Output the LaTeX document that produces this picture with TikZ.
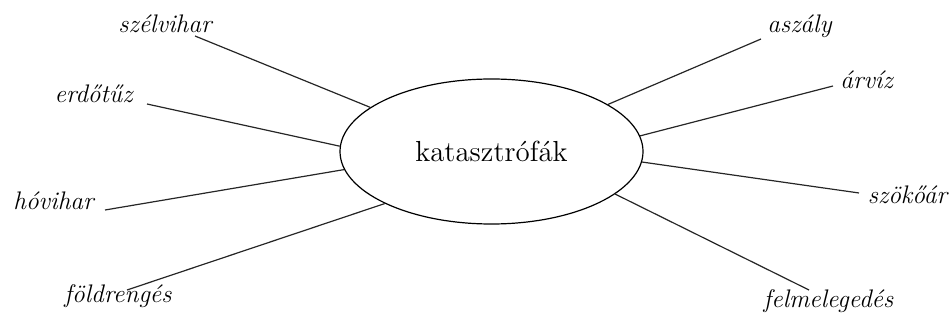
\documentclass[tikz,border=0pt]{standalone}
\usepackage{tikz}
\usetikzlibrary{shapes,positioning,calc}

\begin{document}
\begin{tikzpicture}[
    x=0.5pt, y=-0.5pt,
    center/.style={ellipse, draw, line width=0.6pt, minimum width=151.5pt, minimum height=72.5pt, inner sep=0pt, font=\fontsize{14.5}{17}\selectfont},
    label/.style={anchor=base, inner sep=0pt, font=\fontsize{12.7}{15}\selectfont\itshape},
    spoke/.style={line width=0.6pt, black!85}
]

\useasboundingbox (0,0) rectangle (952,320);

% Draw center
\node[center] (kat) at (491.5,151.5) {katasztrófák};

% Draw labels
\node[label] (szelvihar) at (165,33) {szélvihar};
\node[label] (erdotuz) at (93.5,103) {erdőtűz};
\node[label] (hovihar) at (53.5,210) {hóvihar};
\node[label] (foldrenges) at (118,302) {földrengés};
\node[label] (aszaly) at (799.5,33) {aszály};
\node[label] (arviz) at (866.5,89) {árvíz};
\node[label] (szokoar) at (907.5,204) {szökőár};
\node[label] (felmelegedes) at (828.5,307) {felmelegedés};

% Line ends next to labels
\coordinate (szelvihar-end) at (195,36);
\coordinate (erdotuz-end) at (147,104);
\coordinate (hovihar-end) at (105,210);
\coordinate (foldrenges-end) at (127,290);
\coordinate (aszaly-end) at (761,39);
\coordinate (arviz-end) at (833,86);
\coordinate (szokoar-end) at (859,193);
\coordinate (felmelegedes-end) at (809,290);

% Draw spokes
\draw[spoke] (szelvihar-end) -- (kat.160.3);
\draw[spoke] (erdotuz-end) -- (kat.178.3);
\draw[spoke] (hovihar-end) -- (kat.187.3);
\draw[spoke] (foldrenges-end) -- (kat.206.2);
\draw[spoke] (aszaly-end) -- (kat.22.4);
\draw[spoke] (arviz-end) -- (kat.6.6);
\draw[spoke] (szokoar-end) -- (kat.356.8);
\draw[spoke] (felmelegedes-end) -- (kat.341.3);

\end{tikzpicture}
\end{document}
